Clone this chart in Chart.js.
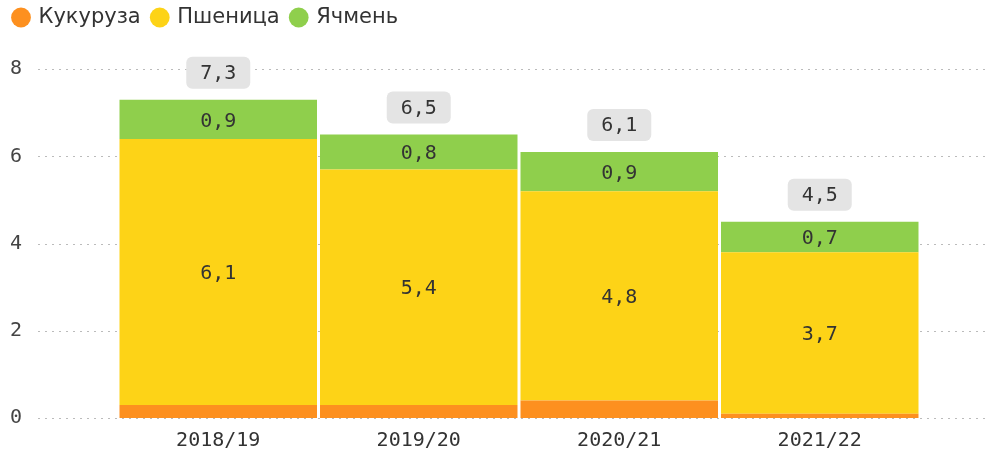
<!DOCTYPE html>
<html>
<head>
<meta charset="utf-8">
<script src="https://cdn.jsdelivr.net/npm/chart.js@4"></script>
<style>
  body { margin: 0; background: #fff; }
  #wrap { width: 994px; height: 452px; }
</style>
</head>
<body>
<div id="wrap"><canvas id="grainChart"></canvas></div>
<script>
const seasons = ['2018/19', '2019/20', '2020/21', '2021/22'];
const corn = [0.3, 0.3, 0.4, 0.1];
const wheat = [6.1, 5.4, 4.8, 3.7];
const barley = [0.9, 0.8, 0.9, 0.7];
const totals = [7.3, 6.5, 6.1, 4.5];
const yTicks = [0, 2, 4, 6, 8];

const mono = 'DejaVu Sans Mono';

function fmt(v){
    return v.toFixed(1).replace('.', ',');
}

// dotted grid lines that run wider than the bars
const dottedGrid = {
    id: 'dottedGrid',
    beforeDatasetsDraw(chart){
        let ctx = chart.ctx;
        let y = chart.scales.y;
        ctx.save();
        ctx.strokeStyle = '#bbbbbb';
        ctx.lineWidth = 1;
        ctx.setLineDash([2, 5]);
        yTicks.forEach(t => {
            let py = Math.round(y.getPixelForValue(t)) + 0.5;
            ctx.beginPath();
            ctx.moveTo(38, py);
            ctx.lineTo(chart.width - 4, py);
            ctx.stroke();
        });
        ctx.restore();
    }
};

// values inside the segments and the grey total boxes on top
const barLabels = {
    id: 'barLabels',
    afterDatasetsDraw(chart){
        let ctx = chart.ctx;
        ctx.save();
        ctx.font = '20px "' + mono + '"';
        ctx.textAlign = 'center';
        ctx.textBaseline = 'middle';
        [1, 2].forEach(di => {
            let meta = chart.getDatasetMeta(di);
            let vals = chart.data.datasets[di].data;
            meta.data.forEach((bar, i) => {
                ctx.fillStyle = '#333';
                ctx.fillText(fmt(vals[i]), bar.x, (bar.y + bar.base) / 2 + 2);
            });
        });
        let top = chart.getDatasetMeta(2);
        top.data.forEach((bar, i) => {
            let cy = bar.y - 27;
            ctx.fillStyle = '#e4e4e4';
            ctx.beginPath();
            ctx.roundRect(bar.x - 32, cy - 16, 64, 32, 6);
            ctx.fill();
            ctx.fillStyle = '#333';
            ctx.fillText(fmt(totals[i]), bar.x, cy + 1);
        });
        ctx.restore();
    }
};

new Chart(document.getElementById('grainChart'), {
    type: 'bar',
    data: {
        labels: seasons,
        datasets: [
            {label: 'Кукуруза', data: corn, backgroundColor: '#fd901f'},
            {label: 'Пшеница', data: wheat, backgroundColor: '#fdd317'},
            {label: 'Ячмень', data: barley, backgroundColor: '#8fcf4c'}
        ]
    },
    options: {
        responsive: true,
        maintainAspectRatio: false,
        animation: false,
        layout: {padding: {left: 2, right: 74, top: -5, bottom: -12}},
        datasets: {bar: {barPercentage: 1, categoryPercentage: 0.985}},
        plugins: {
            legend: {
                position: 'top',
                align: 'start',
                labels: {
                    usePointStyle: true,
                    pointStyle: 'circle',
                    boxWidth: 14,
                    boxHeight: 14,
                    padding: 12,
                    color: '#333',
                    font: {family: 'DejaVu Sans', size: 21}
                }
            },
            // empty spacer between legend and plot
            title: {
                display: true,
                text: '',
                weight: 500,
                font: {size: 1},
                padding: {top: 0, bottom: 30}
            },
            tooltip: {enabled: false}
        },
        scales: {
            x: {
                stacked: true,
                grid: {display: false, drawTicks: false},
                border: {display: false},
                ticks: {color: '#333', padding: 11, font: {family: mono, size: 20}}
            },
            y: {
                stacked: true,
                min: 0,
                max: 8,
                grid: {display: false, drawTicks: false},
                border: {display: false},
                afterFit(scale){
                    scale.width = 116;
                    scale.paddingTop = 0;
                    scale.paddingBottom = 0;
                },
                afterBuildTicks(scale){ scale.ticks = yTicks.map(v => ({value: v})); },
                ticks: {color: '#444', crossAlign: 'center', padding: 96, font: {family: mono, size: 20}}
            }
        }
    },
    plugins: [dottedGrid, barLabels]
});
</script>
</body>
</html>
